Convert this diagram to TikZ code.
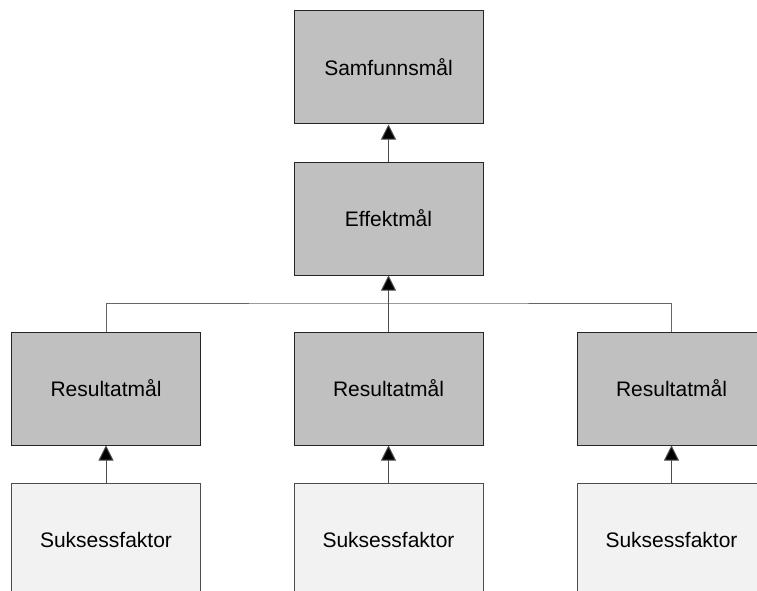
\documentclass[tikz,border=0pt]{standalone}
\usepackage{fontspec}
\setmainfont{Liberation Sans}
\usetikzlibrary{arrows.meta}
\definecolor{maalgray}{HTML}{C0C0C0}
\definecolor{faktorgray}{HTML}{F2F2F2}
\tikzset{
  maal/.style={draw=black!85,fill=maalgray,line width=1pt,minimum width=189pt,minimum height=113pt,inner sep=0pt,font=\fontsize{21}{25}\selectfont},
  faktor/.style={maal,fill=faktorgray,draw=black!70},
  pil/.style={line width=1pt,draw=black!70,-{Triangle[width=15pt,length=15pt,fill=black]}},
  linje/.style={line width=1pt,draw=black!60}
}
\begin{document}
\begin{tikzpicture}[x=1pt,y=-1pt]
        \clip (0,0) rectangle (757,591);
        \fill[white] (0,0) rectangle (757,591);

        \node[maal] (samf) at (388.5,67.5) {Samfunnsmål};
        \node[maal] (eff) at (388.5,218.5) {Effektmål};
        \node[maal] (res1) at (106,388.5) {Resultatmål};
        \node[maal] (res2) at (388.5,388.5) {Resultatmål};
        \node[maal] (res3) at (671.5,388.5) {Resultatmål};
        \node[faktor] (suk1) at (106,539.5) {Suksessfaktor};
        \node[faktor] (suk2) at (388.5,539.5) {Suksessfaktor};
        \node[faktor] (suk3) at (671.5,539.5) {Suksessfaktor};

        \coordinate (buss) at (388.5,303);
        \draw[pil] (eff.north) to (samf.south);
        \draw[linje] (res1.north) |- (buss) -| (res3.north);
        \draw[pil] (res2.north) to (eff.south);
        \draw[pil] (suk1.north) to (res1.south);
        \draw[pil] (suk2.north) to (res2.south);
        \draw[pil] (suk3.north) to (res3.south);
    \end{tikzpicture}
\end{document}
